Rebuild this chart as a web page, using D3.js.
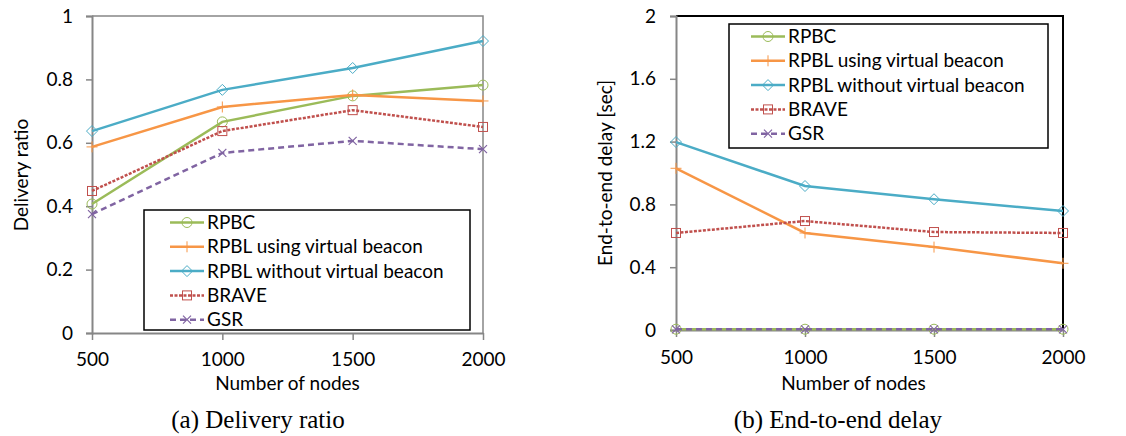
<!DOCTYPE html>
<html>
<head>
<meta charset="utf-8">
<script src="https://cdn.jsdelivr.net/npm/d3@7"></script>
<style>
  body { margin: 0; background: #fff; }
  svg { display: block; }
  text { font-family: Lato, "Open Sans", sans-serif; fill: #000; }
  .caption { font-family: "Liberation Serif", "DejaVu Serif", serif; }
</style>
</head>
<body>
<svg id="chart" width="1126" height="436"></svg>
<script>
// values
const nodes = [500, 1000, 1500, 2000];
const seriesNames = ["RPBC", "RPBL using virtual beacon", "RPBL without virtual beacon", "BRAVE", "GSR"];

const deliveryRPBC = [0.407, 0.666, 0.748, 0.782];
const deliveryUsing = [0.587, 0.713, 0.751, 0.732];
const deliveryWithout = [0.637, 0.767, 0.836, 0.921];
const deliveryBRAVE = [0.448, 0.637, 0.703, 0.650];
const deliveryGSR = [0.375, 0.568, 0.606, 0.580];

const delayRPBC = [0.005, 0.005, 0.005, 0.005];
const delayUsing = [1.03, 0.618, 0.528, 0.425];
const delayWithout = [1.197, 0.917, 0.833, 0.758];
const delayBRAVE = [0.618, 0.694, 0.624, 0.618];
const delayGSR = [0.004, 0.004, 0.004, 0.004];

const deliveryTicks = [0, 0.2, 0.4, 0.6, 0.8, 1];
const delayTicks = [0, 0.4, 0.8, 1.2, 1.6, 2];

// look of each series
const styles = [
  { color: "#9BBB59", dash: null, marker: "circle" },
  { color: "#F79646", dash: null, marker: "plus" },
  { color: "#4BACC6", dash: null, marker: "diamond" },
  { color: "#C0504D", dash: "3,1.5", marker: "square" },
  { color: "#8064A2", dash: "6,4", marker: "cross" }
];

const svg = d3.select("#chart");

function drawMarker(g, type, x, y, color) {
  if (type === "circle") {
    g.append("circle").attr("cx", x).attr("cy", y).attr("r", 5)
      .attr("fill", "none").attr("stroke", color).attr("stroke-width", 1);
  } else if (type === "diamond") {
    g.append("path").attr("d", `M${x},${y - 5.5}L${x + 5.5},${y}L${x},${y + 5.5}L${x - 5.5},${y}Z`)
      .attr("fill", "none").attr("stroke", color).attr("stroke-width", 1);
  } else if (type === "square") {
    g.append("rect").attr("x", x - 4.5).attr("y", y - 4.5).attr("width", 9).attr("height", 9)
      .attr("fill", "none").attr("stroke", color).attr("stroke-width", 1);
  } else if (type === "plus") {
    g.append("path").attr("d", `M${x - 5.5},${y}H${x + 5.5}M${x},${y - 5.5}V${y + 5.5}`)
      .attr("stroke", color).attr("stroke-width", 1);
  } else if (type === "cross") {
    g.append("path").attr("d", `M${x - 4},${y - 4}L${x + 4},${y + 4}M${x - 4},${y + 4}L${x + 4},${y - 4}`)
      .attr("stroke", color).attr("stroke-width", 1.2);
  }
}

function drawPanel(o) {
  const x = d3.scaleLinear().domain([500, 2000]).range([o.left, o.right]);
  const y = d3.scaleLinear().domain([0, o.ticks[o.ticks.length - 1]]).range([o.bottom, o.top]);
  const g = svg.append("g");

  // top / right frame
  g.append("path")
    .attr("d", `M${o.left},${o.top}H${o.right}V${o.bottom}`)
    .attr("fill", "none").attr("stroke", o.frameColor).attr("stroke-width", o.frameWidth);

  // y axis
  const yAxis = g.append("g").attr("transform", `translate(${o.left},0)`)
    .call(d3.axisLeft(y).tickValues(o.ticks).tickSize(6).tickPadding(o.yPad).tickFormat(d3.format("")));
  yAxis.select(".domain").attr("stroke", "#868686").attr("stroke-width", 2);
  yAxis.selectAll(".tick line").attr("stroke", "#868686").attr("stroke-width", 1.5);
  yAxis.selectAll("text").style("font-size", "19px").attr("fill", "#000")
    .attr("font-family", null);

  // x axis
  const xAxis = g.append("g").attr("transform", `translate(0,${o.bottom})`)
    .call(d3.axisBottom(x).tickValues(nodes).tickSize(7).tickPadding(o.xPad)
      .tickSizeOuter(0).tickFormat(d3.format("d")));
  xAxis.select(".domain").attr("stroke", "#868686").attr("stroke-width", 2);
  xAxis.selectAll(".tick line").attr("stroke", "#868686").attr("stroke-width", 1.5);
  xAxis.selectAll("text").style("font-size", "19px").attr("fill", "#000")
    .attr("font-family", null);

  // series
  o.series.forEach((vals, i) => {
    const st = styles[i];
    const line = d3.line().x((d, j) => x(nodes[j])).y(d => y(d));
    g.append("path").datum(vals).attr("d", line)
      .attr("fill", "none").attr("stroke", st.color).attr("stroke-width", 2.5)
      .attr("stroke-dasharray", st.dash);
    vals.forEach((v, j) => drawMarker(g, st.marker, x(nodes[j]), y(v), st.color));
  });

  // legend
  const lg = g.append("g");
  lg.append("rect").attr("x", o.legend.x).attr("y", o.legend.y)
    .attr("width", o.legend.w).attr("height", o.legend.h)
    .attr("fill", "#fff").attr("stroke", "#000").attr("stroke-width", 1.5);
  seriesNames.forEach((name, i) => {
    const st = styles[i];
    const cy = o.legend.y + 12.5 + i * 24.3;
    const lx = o.legend.x + o.legend.sample;
    lg.append("line").attr("x1", lx).attr("x2", lx + 34).attr("y1", cy).attr("y2", cy)
      .attr("stroke", st.color).attr("stroke-width", 2.5).attr("stroke-dasharray", st.dash);
    drawMarker(lg, st.marker, lx + 17, cy, st.color);
    lg.append("text").attr("x", lx + 37).attr("y", cy).attr("dy", "0.35em")
      .style("font-size", "19px").text(name);
  });

  // titles
  g.append("text").attr("x", (o.left + o.right) / 2 + o.xTitleShift).attr("y", 390)
    .attr("text-anchor", "middle").style("font-size", "19px").text("Number of nodes");
  g.append("text")
    .attr("transform", `translate(${o.ylabelX},${o.ylabelY}) rotate(-90)`)
    .attr("text-anchor", "middle").style("font-size", "19px").text(o.ylabel);
  g.append("text").attr("class", "caption").attr("x", o.captionX).attr("y", 428)
    .attr("text-anchor", "middle").style("font-size", "25px").text(o.caption);
}

drawPanel({
  left: 92, right: 483, top: 16, bottom: 333,
  ticks: deliveryTicks, yPad: 13, xPad: 13, xTitleShift: 0,
  series: [deliveryRPBC, deliveryUsing, deliveryWithout, deliveryBRAVE, deliveryGSR],
  frameColor: "#868686", frameWidth: 1.5,
  legend: { x: 144, y: 210, w: 326, h: 120, sample: 26 },
  ylabel: "Delivery ratio", ylabelX: 28, ylabelY: 175,
  caption: "(a) Delivery ratio", captionX: 258
});

drawPanel({
  left: 676, right: 1063, top: 16, bottom: 330,
  ticks: delayTicks, yPad: 14, xPad: 14, xTitleShift: -16,
  series: [delayRPBC, delayUsing, delayWithout, delayBRAVE, delayGSR],
  frameColor: "#000", frameWidth: 2,
  legend: { x: 729, y: 24, w: 319, h: 124, sample: 22 },
  ylabel: "End-to-end delay [sec]", ylabelX: 612, ylabelY: 173,
  caption: "(b) End-to-end delay", captionX: 838
});
</script>
</body>
</html>
